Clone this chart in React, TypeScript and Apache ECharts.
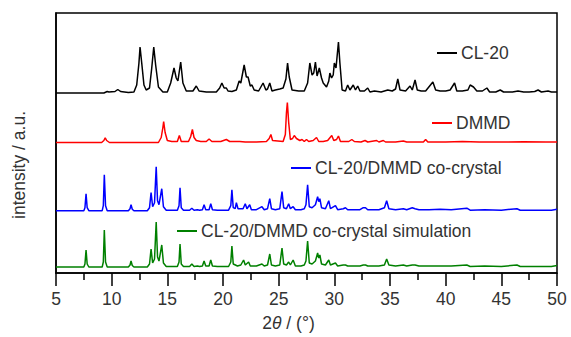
import React, { useEffect, useRef } from "react";
import * as echarts from "echarts";

// 2θ (°) and relative intensity (a.u.)
const cl20: [number, number][] = [
  [5, 0], [9.3, 0], [9.6, 1.5], [9.75, 1], [10.3, 1.5], [10.55, 3.5], [10.8, 1.5], [11.5, 0.5], [12.0, 1],
  [12.25, 8], [12.45, 30], [12.55, 46], [12.7, 30], [12.9, 8], [13.1, 3], [13.4, 5], [13.6, 25], [13.78, 46],
  [13.95, 28], [14.2, 6], [14.6, 1], [15.0, 1], [15.3, 10], [15.6, 25], [15.8, 15], [15.95, 12], [16.2, 31],
  [16.4, 10], [16.7, 2], [17.3, 2], [17.6, 7], [17.85, 2], [18.5, 1], [19.4, 1], [19.7, 5], [19.9, 10],
  [20.1, 5], [20.3, 5], [20.45, 2], [20.8, 1.5], [21.2, 3], [21.45, 12], [21.6, 10], [21.9, 28], [22.1, 16],
  [22.25, 16], [22.45, 7], [22.6, 8], [22.8, 3], [23.2, 2], [23.6, 10], [23.85, 3], [24.0, 4], [24.2, 10],
  [24.4, 2], [24.7, 3], [25.1, 4], [25.4, 5], [25.65, 14], [25.8, 30], [25.95, 16], [26.2, 3], [26.8, 2],
  [27.3, 2], [27.6, 10], [27.8, 30], [28.0, 18], [28.15, 20], [28.3, 31], [28.45, 17], [28.65, 25],
  [28.85, 15], [29.0, 10], [29.3, 6], [29.5, 12], [29.6, 20], [29.75, 15], [29.9, 18], [30.0, 30],
  [30.15, 25], [30.37, 51], [30.5, 30], [30.7, 3], [31.0, 2], [31.2, 8], [31.4, 3], [31.7, 8], [31.9, 3],
  [32.1, 7], [32.3, 2], [32.7, 2], [33.0, 5], [33.2, 1], [33.6, 2], [34.2, 1], [34.8, 3], [35.2, 2],
  [35.5, 4], [35.7, 14], [35.9, 3], [36.4, 2], [36.8, 7], [37.0, 3], [37.25, 13], [37.45, 3], [37.8, 2],
  [38.2, 2], [38.85, 11], [39.1, 3], [39.5, 2], [40.0, 2], [40.4, 3], [40.8, 10], [41.0, 2], [41.5, 2],
  [42.0, 3], [42.2, 8], [42.5, 6], [42.8, 2], [43.3, 2], [43.7, 5], [43.95, 1], [44.5, 1], [44.9, 3],
  [45.2, 1], [46, 1], [46.5, 2], [47, 1], [47.5, 1], [48, 1.5], [48.3, 3], [48.6, 1], [49.2, 2], [49.5, 1], [50, 1],
];

const dmmd: [number, number][] = [
  [5, 0], [9.1, 0], [9.3, 2], [9.42, 4.7], [9.55, 2], [9.8, 0], [14.2, 0], [14.45, 5], [14.6, 15], [14.67, 21],
  [14.8, 10], [15.0, 2], [15.4, 1], [15.9, 1], [16.08, 7], [16.25, 1], [16.9, 1], [17.1, 6], [17.25, 13],
  [17.4, 5], [17.6, 2], [18.0, 1], [18.5, 1], [18.75, 3.5], [19.0, 1], [19.8, 1], [20.3, 3], [20.6, 1],
  [21.5, 1], [22, 0.5], [23, 0.5], [23.9, 1], [24.15, 4], [24.3, 8], [24.45, 2], [25.4, 1], [25.6, 8],
  [25.7, 30], [25.78, 40], [25.9, 20], [26.05, 3], [26.25, 4], [26.4, 7], [26.6, 4], [26.9, 2], [27.1, 3],
  [27.3, 1], [27.5, 3], [27.7, 1], [28.1, 2], [28.4, 5], [28.6, 1], [29.0, 1], [29.4, 2], [29.77, 7],
  [29.95, 2], [30.2, 3], [30.37, 6.5], [30.55, 1], [31.3, 1], [31.57, 3], [31.8, 1], [32.4, 0.5], [32.76, 2],
  [33.0, 0.5], [33.8, 2], [34.0, 0.5], [34.4, 2], [34.6, 0.5], [35.5, 0.5], [36.2, 1.5], [36.5, 0.5],
  [38.0, 0.5], [38.2, 3], [38.4, 0.5], [40, 0.5], [41.5, 1], [43, 0.5], [45, 0.5], [47, 0.8], [49, 0.5], [50, 0.5],
];

const cocrystal: [number, number][] = [
  [5, 0], [7.5, 0], [7.6, 3], [7.7, 17], [7.8, 3], [7.95, 0], [9.15, 0], [9.25, 5], [9.34, 36], [9.45, 5],
  [9.6, 0], [11.5, 0], [11.65, 2], [11.74, 6], [11.85, 1.5], [12.0, 0], [13.2, 0], [13.4, 3], [13.54, 18],
  [13.68, 4], [13.85, 8], [14.0, 44], [14.12, 10], [14.25, 6], [14.5, 22], [14.65, 4], [14.9, 0.5],
  [15.9, 0.5], [16.05, 5], [16.14, 23], [16.25, 3], [16.45, 0.5], [17.0, 0.5], [17.2, 2.5], [17.4, 0.5],
  [17.7, 1], [17.9, 0.5], [18.15, 1], [18.3, 6], [18.45, 1], [18.75, 1], [18.9, 7], [19.05, 1], [19.5, 0.5],
  [20.5, 0.5], [20.7, 5], [20.8, 21], [20.92, 3], [21.1, 2], [21.2, 8], [21.35, 2], [21.8, 2], [22.0, 7],
  [22.15, 2], [22.4, 6], [22.55, 1], [23.0, 1], [23.5, 4], [23.7, 1], [24.0, 2], [24.2, 12], [24.35, 2],
  [24.7, 1], [25.1, 2], [25.3, 19], [25.45, 3], [25.7, 2], [25.9, 7], [26.05, 2], [26.3, 4], [26.5, 1],
  [27.0, 1], [27.3, 2], [27.45, 6], [27.6, 26], [27.75, 4], [28.0, 3], [28.3, 6], [28.5, 14], [28.6, 9],
  [28.7, 12], [28.85, 3], [29.2, 2], [29.5, 10], [29.65, 2], [30.1, 5], [30.3, 1], [30.8, 2], [31.0, 3],
  [31.2, 1], [31.8, 1], [32.3, 1], [32.6, 3], [32.8, 3], [33.0, 1], [33.5, 1], [34.0, 1], [34.5, 3],
  [34.7, 10], [34.9, 2], [35.5, 1], [36.2, 2], [36.5, 1], [37.0, 3], [37.25, 2], [37.6, 1], [38.5, 1],
  [39.5, 1.5], [40.5, 1], [41.9, 2.5], [42.2, 0.5], [43.5, 1], [45.0, 0.5], [46.4, 2], [46.7, 0.5],
  [48, 0.5], [49.5, 0.5], [50, 1.5],
];

const simulation: [number, number][] = [
  [5, 0], [7.5, 0], [7.6, 3], [7.7, 17], [7.8, 3], [7.95, 0], [9.15, 0], [9.25, 5], [9.34, 37], [9.45, 5],
  [9.6, 0], [11.5, 0], [11.65, 2], [11.74, 6], [11.85, 1.5], [12.0, 0], [13.2, 0], [13.4, 3], [13.54, 18],
  [13.68, 4], [13.85, 8], [14.0, 45], [14.12, 10], [14.25, 6], [14.5, 22], [14.65, 4], [14.9, 0.5],
  [15.9, 0.5], [16.05, 5], [16.14, 23], [16.25, 3], [16.45, 0.5], [17.0, 0.5], [17.2, 3], [17.4, 0.5],
  [17.7, 1], [17.9, 0.5], [18.15, 1], [18.3, 6], [18.45, 1], [18.75, 1], [18.9, 7], [19.05, 1], [19.5, 0.5],
  [20.5, 0.5], [20.7, 5], [20.8, 21], [20.92, 3], [21.3, 1], [21.6, 2], [21.85, 7], [22.0, 2], [22.3, 5],
  [22.45, 1], [23.0, 1], [23.5, 3], [23.7, 1], [24.0, 2], [24.2, 13], [24.35, 2], [24.7, 1], [25.1, 2],
  [25.3, 19], [25.45, 3], [25.7, 2], [25.9, 5], [26.05, 2], [26.3, 7], [26.5, 1], [27.0, 1], [27.3, 2],
  [27.45, 6], [27.6, 26], [27.75, 4], [28.0, 3], [28.3, 6], [28.5, 14], [28.6, 9], [28.7, 12], [28.85, 3],
  [29.2, 2], [29.5, 7], [29.65, 2], [30.1, 4], [30.3, 1], [30.8, 2], [31.0, 2], [31.2, 1], [31.8, 1],
  [32.3, 1], [32.6, 2], [32.8, 2], [33.0, 1], [33.5, 1], [34.0, 1], [34.5, 2], [34.7, 8], [34.9, 2],
  [35.5, 1], [36.2, 2], [36.5, 1], [37.0, 2], [37.25, 2], [37.6, 1], [38.5, 1], [39.5, 1], [40.5, 1],
  [41.9, 2], [42.2, 0.5], [43.5, 1], [45.0, 0.5], [46.4, 2], [46.7, 0.5], [48, 0.5], [49.5, 0.5], [50, 1.5],
];

const seriesNames = ["CL-20", "DMMD", "CL-20/DMMD co-crystal", "CL-20/DMMD co-crystal simulation"];
const seriesData = [cl20, dmmd, cocrystal, simulation];
// vertical offsets used to stack the patterns (a.u.)
const offsets = [180, 130.5, 62.3, 6];
const colors = ["#000000", "#ff0000", "#0000ff", "#008000"];

const xTicks = [5, 10, 15, 20, 25, 30, 35, 40, 45, 50];

const FONT = "'Liberation Sans', Arial, sans-serif";
const TEXT = "#333333";

export default function App() {
  const ref = useRef<HTMLDivElement>(null);
  useEffect(() => {
    document.body.style.margin = "0";
    if (!ref.current) return;
    const chart = echarts.init(ref.current, undefined, { renderer: "svg" });
    const legendPos = [
      { left: 437, top: 44 },
      { left: 432, top: 114 },
      { left: 291, top: 159 },
      { left: 177, top: 222 },
    ];
    chart.setOption({
      animation: false,
      backgroundColor: "#ffffff",
      textStyle: { fontFamily: FONT },
      grid: {
        left: 56,
        right: 14,
        top: 13,
        bottom: 64,
        show: true,
        borderColor: "#000",
        borderWidth: 1.5,
        backgroundColor: "transparent",
      },
      legend: seriesNames.map((n, i) => ({
        data: [n],
        left: legendPos[i].left,
        top: legendPos[i].top,
        icon: "rect",
        itemWidth: 20,
        itemHeight: 2,
        selectedMode: false,
        padding: 0,
        textStyle: { fontSize: 17.5, color: TEXT, fontFamily: FONT, padding: [0, 0, 0, -1] },
      })),
      xAxis: {
        type: "value",
        min: xTicks[0],
        max: xTicks[xTicks.length - 1],
        interval: 5,
        name: "2{i|θ} / (°)",
        nameLocation: "middle",
        nameGap: 41,
        nameTextStyle: {
          fontSize: 17.5,
          color: TEXT,
          fontFamily: FONT,
          padding: [0, 36, 0, 0],
          rich: { i: { fontStyle: "italic", fontSize: 17.5, color: TEXT, fontFamily: FONT } },
        },
        axisLine: { show: true, lineStyle: { color: "#000", width: 1.5 } },
        axisTick: { show: true, inside: false, length: 13, lineStyle: { color: "#000", width: 1.5 } },
        minorTick: { show: true, splitNumber: 2, length: 7, lineStyle: { color: "#000", width: 1.5 } },
        axisLabel: { fontSize: 17.5, color: TEXT, fontFamily: FONT, margin: 17 },
        splitLine: { show: false },
      },
      yAxis: {
        type: "value",
        min: 0,
        max: 260,
        name: "intensity / a.u.",
        nameLocation: "middle",
        nameGap: 28,
        nameTextStyle: { fontSize: 17.5, color: TEXT, fontFamily: FONT, padding: [0, 44, 0, 0] },
        axisLine: { show: true, lineStyle: { color: "#000", width: 1.5 } },
        axisTick: { show: false },
        axisLabel: { show: false },
        splitLine: { show: false },
      },
      series: seriesNames.map((n, i) => ({
        name: n,
        type: "line",
        symbol: "none",
        color: colors[i],
        lineStyle: { color: colors[i], width: 1.5 },
        data: seriesData[i].map(([x, y]) => [x, y + offsets[i]]),
        z: 3,
      })),
    });
    return () => chart.dispose();
  }, []);
  return (
    <div
      ref={ref}
      style={{ position: "absolute", left: 0, top: 0, width: 571, height: 337 }}
    />
  );
}
